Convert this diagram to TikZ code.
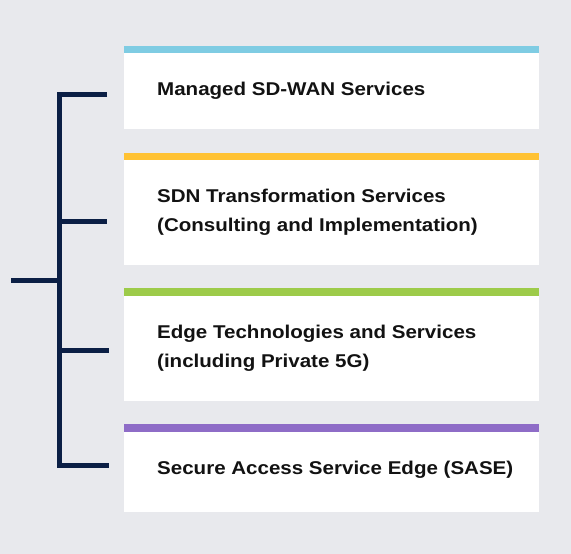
\documentclass[tikz,border=0pt]{standalone}
\usepackage{fontspec}
\setmainfont{Liberation Sans}[FakeStretch=1.11]
\definecolor{bg}{HTML}{E8E9ED}
\definecolor{navy}{HTML}{0B1F45}
\definecolor{cyanbar}{HTML}{7FCCE3}
\definecolor{yellowbar}{HTML}{FFC233}
\definecolor{greenbar}{HTML}{9DCB4A}
\definecolor{purplebar}{HTML}{8E6CC7}
\definecolor{txt}{HTML}{121212}
\begin{document}
\begin{tikzpicture}[x=1pt,y=-1pt,
  card/.style={fill=white},
  label/.style={anchor=base west,inner sep=0pt,text=txt,font=\fontsize{18.5}{29}\selectfont\bfseries,align=left},
  bracket/.style={draw=navy,line width=5pt,line cap=butt,line join=miter}]
\fill[bg] (0,0) rectangle (571,554);
\useasboundingbox (0,0) rectangle (571,554);
% cards
\coordinate (c1a) at (124,45.7); \coordinate (c1b) at (539,129);
\coordinate (c2a) at (124,152.7); \coordinate (c2b) at (539,265);
\coordinate (c3a) at (124,288.3); \coordinate (c3b) at (539,400.7);
\coordinate (c4a) at (124,424.3); \coordinate (c4b) at (539,511.7);
\fill[card] (c1a) rectangle (c1b);
\fill[card] (c2a) rectangle (c2b);
\fill[card] (c3a) rectangle (c3b);
\fill[card] (c4a) rectangle (c4b);
\fill[cyanbar] (c1a) rectangle ([yshift=-7.6pt]c1b|-c1a);
\fill[yellowbar] (c2a) rectangle ([yshift=-7.6pt]c2b|-c2a);
\fill[greenbar] (c3a) rectangle ([yshift=-7.6pt]c3b|-c3a);
\fill[purplebar] (c4a) rectangle ([yshift=-7.6pt]c4b|-c4a);
% labels (base = last line)
\node[label] (t1) at (157,95) {Managed SD-WAN Services};
\node[label] (t2) at (157,231.7) {SDN Transformation Services\\(Consulting and Implementation)};
\node[label] (t3) at (157,367) {Edge Technologies and Services\\(including Private 5G)};
\node[label] (t4) at (157,474) {Secure Access Service Edge (SASE)};
% bracket
\coordinate (s1) at (59,94.2);
\coordinate (s2) at (59,221);
\coordinate (s3) at (59,350);
\coordinate (s4) at (59,465);
\coordinate (sm) at (59,280);
\coordinate (e1) at (107,94.2);
\coordinate (e2) at (107,221);
\coordinate (e3) at (109,350);
\coordinate (e4) at (109,465);
\coordinate (root) at (11,280);
\draw[bracket] (e1) -- (s1) -- (s4) -- (e4);
\draw[bracket] (s2) -- (e2);
\draw[bracket] (s3) -- (e3);
\draw[bracket] (root) -- (sm);
\end{tikzpicture}
\end{document}
